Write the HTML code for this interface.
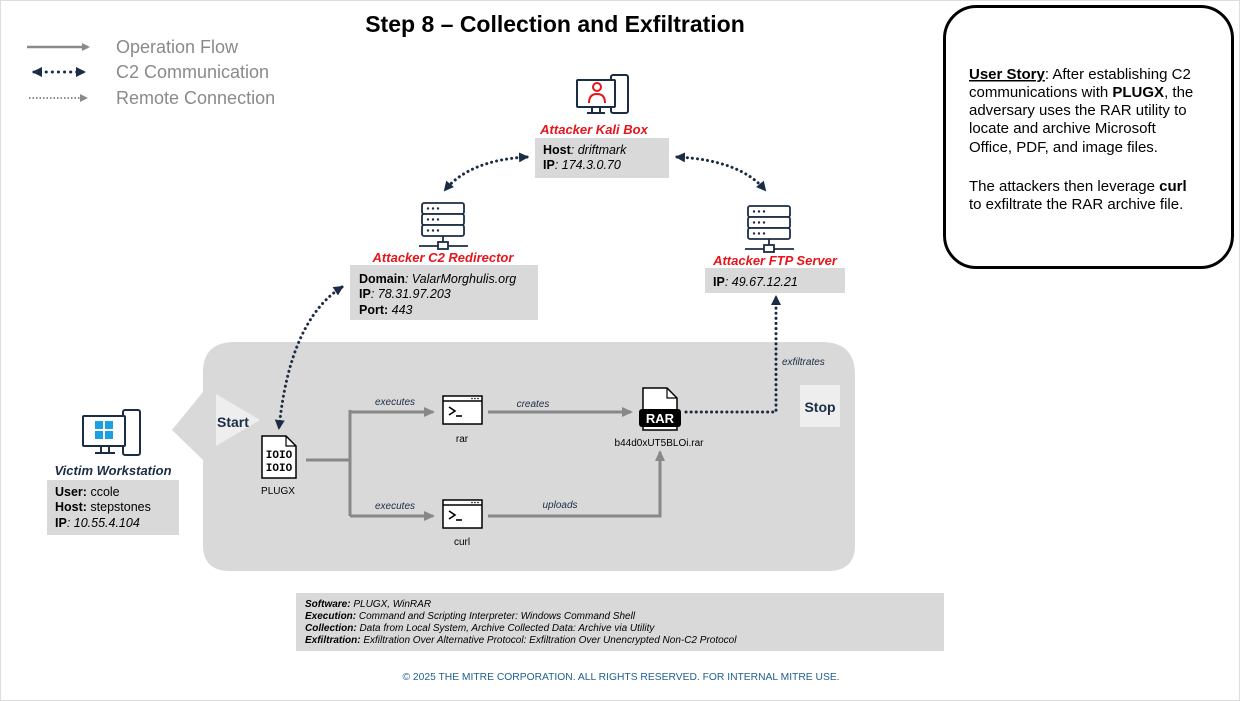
<!DOCTYPE html>
<html><head><meta charset="utf-8"><style>
html,body{margin:0;padding:0;background:#fff}
svg{display:block;font-family:"Liberation Sans",sans-serif}
</style></head><body>
<svg width="1240" height="701" viewBox="0 0 1240 701" xmlns="http://www.w3.org/2000/svg">
<defs>
<marker id="ag" markerWidth="8" markerHeight="8" refX="6" refY="4" orient="auto" markerUnits="userSpaceOnUse"><path d="M0,0 L8,4 L0,8 z" fill="#8a8a8a"/></marker>
<marker id="an" markerWidth="10" markerHeight="10" refX="8" refY="5" orient="auto" markerUnits="userSpaceOnUse"><path d="M0,0 L10,5 L0,10 z" fill="#1b2d44"/></marker>
<marker id="ans" markerWidth="10" markerHeight="10" refX="2" refY="5" orient="auto" markerUnits="userSpaceOnUse"><path d="M10,0 L0,5 L10,10 z" fill="#1b2d44"/></marker>
<marker id="ag2" markerWidth="12" markerHeight="12" refX="9" refY="6" orient="auto" markerUnits="userSpaceOnUse"><path d="M0,1 L11,6 L0,11 z" fill="#888"/></marker>
</defs>
<rect x="0.5" y="0.5" width="1239" height="700" fill="none" stroke="#ddd"/>
<text x="555" y="32" font-size="23" font-weight="bold" text-anchor="middle" fill="#000">Step 8 – Collection and Exfiltration</text>

<!-- legend -->
<line x1="27" y1="47" x2="88" y2="47" stroke="#8a8a8a" stroke-width="2.5" marker-end="url(#ag)"/>
<line x1="34" y1="72" x2="84" y2="72" stroke="#1b2d44" stroke-width="3" stroke-dasharray="0.1 6" stroke-linecap="round" marker-start="url(#ans)" marker-end="url(#an)"/>
<line x1="29" y1="98" x2="86" y2="98" stroke="#8a8a8a" stroke-width="2" stroke-dasharray="1.5 2" marker-end="url(#ag)"/>
<g font-size="18" fill="#8a8a8a"><text x="116" y="53">Operation Flow</text><text x="116" y="78">C2 Communication</text><text x="116" y="104">Remote Connection</text></g>

<!-- user story -->
<rect x="944.5" y="6.5" width="288" height="261" rx="32" fill="#fff" stroke="#000" stroke-width="3"/>
<g font-size="15" fill="#000">
<text x="969" y="79"><tspan font-weight="bold" text-decoration="underline">User Story</tspan>: After establishing C2</text>
<text x="969" y="97">communications with <tspan font-weight="bold">PLUGX</tspan>, the</text>
<text x="969" y="115">adversary uses the RAR utility to</text>
<text x="969" y="133">locate and archive Microsoft</text>
<text x="969" y="152">Office, PDF, and image files.</text>
<text x="969" y="191">The attackers then leverage <tspan font-weight="bold">curl</tspan></text>
<text x="969" y="209">to exfiltrate the RAR archive file.</text>
</g>

<!-- gray region -->
<path d="M203,392 L172,430 L203,460 L203,545 Q203,571 230,571 L828,571 Q855,571 855,545 L855,375 Q855,342 822,342 L235,342 Q203,342 203,372 Z" fill="#d9d9d9"/>
<polygon points="216,394 260,420 216,446" fill="#eeeeee"/>
<text x="217" y="427" font-size="14" font-weight="bold" fill="#1b2d44">Start</text>
<rect x="800" y="385" width="40" height="42" fill="#eeeeee"/>
<text x="820" y="412" font-size="14" font-weight="bold" fill="#1b2d44" text-anchor="middle">Stop</text>

<!-- Kali -->
<g stroke="#1b2d44" stroke-width="2" fill="none">
<rect x="611" y="75" width="17" height="38" rx="2"/>
<rect x="577" y="80" width="38" height="27" rx="1" fill="#fff"/>
<line x1="592" y1="107" x2="592" y2="113"/><line x1="600" y1="107" x2="600" y2="113"/><line x1="587" y1="113" x2="605" y2="113"/>
</g>
<g stroke="#e8141b" stroke-width="2" fill="none"><circle cx="597" cy="87" r="4"/><path d="M589,103 Q589,94 597,94 Q605,94 605,103"/></g>
<text x="594" y="134" font-size="13" font-weight="bold" font-style="italic" fill="#e8141b" text-anchor="middle">Attacker Kali Box</text>
<rect x="535" y="138" width="134" height="40" fill="#d9d9d9"/>
<text x="543" y="154" font-size="12.5"><tspan font-weight="bold">Host</tspan><tspan font-style="italic">: driftmark</tspan></text>
<text x="543" y="169" font-size="12.5"><tspan font-weight="bold">IP</tspan><tspan font-style="italic">: 174.3.0.70</tspan></text>

<!-- server icons -->
<g id="srv" stroke="#1b2d44" stroke-width="1.8" fill="#fff">
<rect x="422" y="203" width="42" height="11" rx="2"/><rect x="422" y="214" width="42" height="11" rx="2"/><rect x="422" y="225" width="42" height="11" rx="2"/>
<line x1="443" y1="236" x2="443" y2="243"/><line x1="419" y1="246" x2="468" y2="246"/><rect x="438" y="242" width="10" height="7"/>
<g fill="#1b2d44" stroke="none"><circle cx="428" cy="208.5" r="1.2"/><circle cx="433" cy="208.5" r="1.2"/><circle cx="438" cy="208.5" r="1.2"/><circle cx="428" cy="219.5" r="1.2"/><circle cx="433" cy="219.5" r="1.2"/><circle cx="438" cy="219.5" r="1.2"/><circle cx="428" cy="230.5" r="1.2"/><circle cx="433" cy="230.5" r="1.2"/><circle cx="438" cy="230.5" r="1.2"/></g>
</g>
<use href="#srv" transform="translate(326,3)"/>
<text x="443" y="262" font-size="13" font-weight="bold" font-style="italic" fill="#e8141b" text-anchor="middle">Attacker C2 Redirector</text>
<rect x="350" y="265" width="188" height="55" fill="#d9d9d9"/>
<text x="359" y="283" font-size="12.5"><tspan font-weight="bold">Domain</tspan><tspan font-style="italic">: ValarMorghulis.org</tspan></text>
<text x="359" y="298" font-size="12.5"><tspan font-weight="bold">IP</tspan><tspan font-style="italic">: 78.31.97.203</tspan></text>
<text x="359" y="314" font-size="12.5"><tspan font-weight="bold">Port: </tspan><tspan font-style="italic">443</tspan></text>
<text x="775" y="265" font-size="13" font-weight="bold" font-style="italic" fill="#e8141b" text-anchor="middle">Attacker FTP Server</text>
<rect x="705" y="268" width="140" height="25" fill="#d9d9d9"/>
<text x="713" y="286" font-size="12.5"><tspan font-weight="bold">IP</tspan><tspan font-style="italic">: 49.67.12.21</tspan></text>

<!-- C2 arrows -->
<g stroke="#1b2d44" stroke-width="3" fill="none" stroke-dasharray="0.1 5" stroke-linecap="round">
<path d="M527,157 Q470,160 445,190" marker-start="url(#ans)" marker-end="url(#an)"/>
<path d="M677,157 Q740,160 765,190" marker-start="url(#ans)" marker-end="url(#an)"/>
<path d="M342,287 Q290,320 279,428" marker-start="url(#ans)" marker-end="url(#an)"/>
<path d="M686,412 L776,412 L776,297" marker-end="url(#an)"/>
</g>
<text x="782" y="365" font-size="10" font-style="italic" fill="#1b2d44">exfiltrates</text>

<!-- victim -->
<g stroke="#1b2d44" stroke-width="2" fill="none">
<rect x="123" y="410" width="17" height="45" rx="2"/>
<rect x="83" y="416" width="42" height="30" rx="1" fill="#fff"/>
<line x1="101" y1="446" x2="101" y2="453"/><line x1="109" y1="446" x2="109" y2="453"/><line x1="95" y1="453" x2="115" y2="453"/>
</g>
<g fill="#1ba1e2"><rect x="95" y="421" width="8" height="8"/><rect x="105" y="421" width="8" height="8"/><rect x="95" y="431" width="8" height="8"/><rect x="105" y="431" width="8" height="8"/></g>
<text x="113" y="475" font-size="13" font-weight="bold" font-style="italic" fill="#1b2d44" text-anchor="middle">Victim Workstation</text>
<rect x="47" y="480" width="132" height="55" fill="#d9d9d9"/>
<text x="55" y="496" font-size="12.5"><tspan font-weight="bold">User:</tspan> ccole</text>
<text x="55" y="511" font-size="12.5"><tspan font-weight="bold">Host:</tspan> stepstones</text>
<text x="55" y="527" font-size="12.5"><tspan font-weight="bold">IP</tspan><tspan font-style="italic">: 10.55.4.104</tspan></text>

<!-- flow -->
<g stroke="#888" stroke-width="3" fill="none">
<line x1="306" y1="460" x2="350" y2="460"/>
<line x1="350" y1="410" x2="350" y2="516"/>
<line x1="350" y1="412" x2="433" y2="412" marker-end="url(#ag2)"/>
<line x1="350" y1="516" x2="433" y2="516" marker-end="url(#ag2)"/>
<line x1="488" y1="412" x2="631" y2="412" marker-end="url(#ag2)"/>
<path d="M488,516 L660,516 L660,452" marker-end="url(#ag2)"/>
</g>
<g font-size="10" font-style="italic" fill="#1b2d44">
<text x="395" y="405" text-anchor="middle">executes</text>
<text x="395" y="509" text-anchor="middle">executes</text>
<text x="533" y="407" text-anchor="middle">creates</text>
<text x="560" y="508" text-anchor="middle">uploads</text>
</g>

<!-- PLUGX file -->
<path d="M262,436 L286,436 L296,446 L296,478 L262,478 Z" fill="#fff" stroke="#000" stroke-width="1.5"/>
<path d="M286,436 L286,446 L296,446" fill="none" stroke="#000" stroke-width="1.2"/>
<text x="279" y="458" font-size="11" font-weight="bold" text-anchor="middle" font-family="Liberation Mono,monospace">IOIO</text>
<text x="279" y="471" font-size="11" font-weight="bold" text-anchor="middle" font-family="Liberation Mono,monospace">IOIO</text>
<text x="278" y="494" font-size="10" text-anchor="middle">PLUGX</text>

<!-- terminals -->
<g id="term">
<rect x="443" y="396" width="39" height="28" fill="#fff" stroke="#000" stroke-width="1.5"/>
<line x1="443" y1="401" x2="482" y2="401" stroke="#000" stroke-width="1.5"/>
<g fill="#000"><circle cx="472" cy="398.5" r="0.8"/><circle cx="475" cy="398.5" r="0.8"/><circle cx="478" cy="398.5" r="0.8"/></g>
<path d="M449,407 L455,411 L449,415" fill="none" stroke="#000" stroke-width="1.6"/>
<line x1="456" y1="416" x2="462" y2="416" stroke="#000" stroke-width="1.6"/>
</g>
<use href="#term" transform="translate(0,104)"/>
<text x="462" y="442" font-size="10" text-anchor="middle">rar</text>
<text x="462" y="545" font-size="10" text-anchor="middle">curl</text>

<!-- RAR file -->
<path d="M643,388 L667,388 L677,398 L677,430 L643,430 Z" fill="#fff" stroke="#000" stroke-width="1.5"/>
<path d="M667,388 L667,398 L677,398" fill="none" stroke="#000" stroke-width="1.2"/>
<rect x="639" y="409" width="42" height="18" rx="3" fill="#000"/>
<text x="660" y="423" font-size="13" font-weight="bold" fill="#fff" text-anchor="middle">RAR</text>
<text x="659" y="446" font-size="10" text-anchor="middle">b44d0xUT5BLOi.rar</text>

<!-- bottom box -->
<rect x="296" y="593" width="648" height="58" fill="#d9d9d9"/>
<g font-size="10" font-style="italic" fill="#000">
<text x="305" y="607"><tspan font-weight="bold">Software:</tspan> PLUGX, WinRAR</text>
<text x="305" y="619"><tspan font-weight="bold">Execution:</tspan> Command and Scripting Interpreter: Windows Command Shell</text>
<text x="305" y="631"><tspan font-weight="bold">Collection:</tspan> Data from Local System, Archive Collected Data: Archive via Utility</text>
<text x="305" y="643"><tspan font-weight="bold">Exfiltration:</tspan> Exfiltration Over Alternative Protocol: Exfiltration Over Unencrypted Non-C2 Protocol</text>
</g>
<text x="621" y="680" font-size="10.3" fill="#1f5f8f" text-anchor="middle">© 2025 THE MITRE CORPORATION. ALL RIGHTS RESERVED. FOR INTERNAL MITRE USE.</text>
</svg>
</body></html>
